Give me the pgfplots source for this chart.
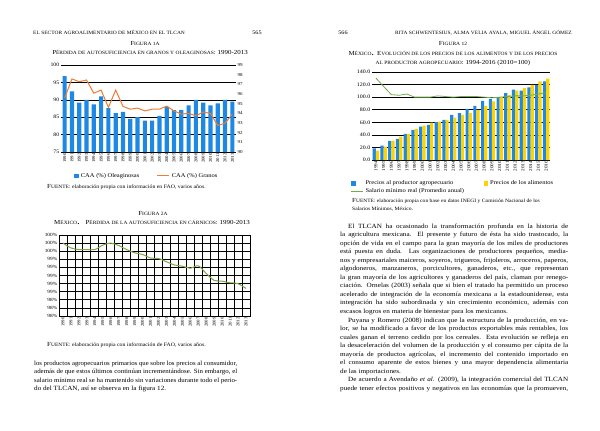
\documentclass[border=0pt]{standalone}
\usepackage{fontspec}
\setmainfont{Liberation Serif}[FakeStretch=1.12]
\usepackage{graphicx}
\usepackage{pgfplots}
\pgfplotsset{compat=1.18}
\definecolor{cblue}{RGB}{30,136,229}
\definecolor{corange}{RGB}{237,125,49}
\definecolor{cyellow}{RGB}{255,210,0}
\definecolor{cgreen}{RGB}{112,173,71}
\definecolor{colive}{RGB}{125,165,70}
\newcommand\fs[1]{\fontsize{#1}{#1}\selectfont}
\newcommand\sC[1]{{\fontsize{4.9bp}{5bp}\selectfont\MakeUppercase{#1}}}
\newcommand\Bg[1]{{\fontsize{6.2bp}{6bp}\selectfont #1}}
\newsavebox\lb
\newcommand\jw[2]{\sbox\lb{#2}\ifdim\wd\lb>#1\relax\resizebox{#1}{\height}{\usebox\lb}\else\makebox[#1][s]{#2}\fi}
\newcommand\jr[1]{\jw{228bp}{#1}}
\newcommand\jri[1]{\jw{220bp}{#1}}
\newcommand\jl[1]{\jw{203bp}{#1}}
\newcommand\bt{\fs{6.4bp}}
\pgfplotsset{
  barleg/.style={legend image code/.code={\fill[##1] (0bp,-2.3bp) rectangle (4.6bp,2.3bp);}},
  lineleg/.style={legend image code/.code={\draw[##1] (0bp,0bp) -- (12bp,0bp);}},
}
\begin{document}
\begin{tikzpicture}
\fill[white] (0,0) rectangle (600bp,-431bp);
\useasboundingbox (0,0) rectangle (600bp,-431bp);

% ---------------- Figure 1a ----------------
\begin{axis}[at={(61bp,-152bp)}, anchor=south west, scale only axis,
  width=175bp, height=87bp,
  xmin=-0.5, xmax=23.5, ymin=75, ymax=100, ytick={75,80,...,100},
  xtick={0,...,23},
  xticklabels={1990,1991,1992,1993,1994,1995,1996,1997,1998,1999,2000,2001,2002,2003,2004,2005,2006,2007,2008,2009,2010,2011,2012,2013},
  x tick label style={rotate=90, anchor=east, font=\fs{4.3bp}, inner sep=1bp},
  y tick label style={font=\fs{5.2bp}, inner sep=1.5bp},
  /pgf/number format/assume math mode=true,
  ymajorgrids, grid style={black, line width=0.5bp},
  axis line style={draw=none}, tick style={draw=none},
  legend columns=2,
  legend style={at={(0.075,-0.275)}, anchor=west, draw=none, fill=none,
    font=\fs{5.8bp}, inner sep=0pt},
  legend cell align=left]
\addplot[ybar, bar width=4.2bp, bar shift=0pt, fill=cblue, draw=none, barleg] coordinates {
(0,96.8)(1,92.4)(2,89.2)(3,90.0)(4,88.7)(5,91.0)(6,87.6)(7,86.2)(8,86.5)(9,84.5)
(10,85.0)(11,84.0)(12,84.0)(13,85.4)(14,88.0)(15,87.0)(16,87.0)(17,88.4)(18,90.0)
(19,89.2)(20,88.4)(21,89.0)(22,90.0)(23,89.5)};
\addlegendentry{\makebox[74bp][l]{CAA (\%) Oleaginosas}}
\addlegendimage{lineleg, corange, line width=1bp}
\addlegendentry{CAA (\%) Granos}
\end{axis}
\begin{axis}[at={(61bp,-152bp)}, anchor=south west, scale only axis,
  width=175bp, height=87bp,
  xmin=-0.5, xmax=23.5, ymin=90, ymax=99, ytick={90,...,99},
  axis y line*=right, hide x axis,
  y axis line style={draw=none}, tick style={draw=none},
  y tick label style={font=\fs{4.5bp}, inner sep=1.5bp},
  /pgf/number format/assume math mode=true]
\addplot[corange, line width=1bp, sharp plot] coordinates {
(0,95.58)(1,97.56)(2,97.27)(3,97.45)(4,96.08)(5,96.41)(6,94.61)(7,96.41)(8,94.72)
(9,94.43)(10,94.54)(11,94.25)(12,94.43)(13,94.43)(14,94.75)(15,94.25)(16,93.92)
(17,94.00)(18,93.74)(19,94.14)(20,94.00)(21,92.74)(22,92.99)(23,93.92)};
\end{axis}

% ---------------- Figure 2a ----------------
\begin{axis}[at={(59bp,-316bp)}, anchor=south west, scale only axis,
  width=191bp, height=81bp,
  xmin=-0.5, xmax=23.5, ymin=98, ymax=100,
  ytick={98,98.2,98.4,98.6,98.8,99,99.2,99.4,99.6,99.8,100},
  yticklabel={\pgfmathprintnumber[fixed,precision=0]{\tick}\%},
  xtick={0,...,23},
  xticklabels={1990,1991,1992,1993,1994,1995,1996,1997,1998,1999,2000,2001,2002,2003,2004,2005,2006,2007,2008,2009,2010,2011,2012,2013},
  minor xtick={-0.5,0.5,...,23.5},
  x tick label style={rotate=90, anchor=east, font=\fs{4.3bp}, inner sep=1bp},
  y tick label style={font=\fs{4.8bp}, inner sep=1.5bp},
  /pgf/number format/assume math mode=true,
  ymajorgrids, xminorgrids,
  major grid style={black, line width=0.8bp}, minor grid style={black, line width=0.8bp},
  axis line style={black, line width=0.8bp}, tick style={draw=none}]
\addplot[colive, line width=1bp, smooth, tension=0.5] coordinates {
(0,99.80)(1,99.68)(2,99.64)(3,99.64)(4,99.64)(5,99.75)(6,99.80)(7,99.74)(8,99.64)
(9,99.56)(10,99.52)(11,99.43)(12,99.42)(13,99.34)(14,99.26)(15,99.23)(16,99.18)
(17,99.24)(18,99.05)(19,98.88)(20,98.86)(21,98.82)(22,98.80)(23,98.68)};
\end{axis}

% ---------------- Figure 12 ----------------
\begin{axis}[at={(372bp,-160bp)}, anchor=south west, scale only axis,
  width=178bp, height=88bp,
  xmin=-0.5, xmax=22.5, ymin=0, ymax=140, ytick={0,20,...,140},
  /pgf/number format/fixed, /pgf/number format/fixed zerofill, /pgf/number format/precision=1,
  xtick={0,...,22},
  xticklabels={1994,1995,1996,1997,1998,1999,2000,2001,2002,2003,2004,2005,2006,2007,2008,2009,2010,2011,2012,2013,2014,2015,2016},
  x tick label style={rotate=90, anchor=east, font=\fs{4.6bp}, inner sep=1bp},
  y tick label style={font=\fs{5.3bp}, inner sep=1.5bp},
  /pgf/number format/assume math mode=true,
  ymajorgrids, grid style={black, line width=0.5bp},
  axis line style={draw=none}, tick style={draw=none},
  legend columns=2,
  legend style={at={(-0.12,-0.21)}, anchor=north west, draw=none, fill=none,
    font=\fs{5.8bp}, inner sep=0pt, row sep=-1.5bp},
  legend cell align=left]
\addplot[ybar, bar width=3.2bp, bar shift=-1.6bp, fill=cblue, draw=none, barleg] coordinates {
(0,18.6)(1,22.9)(2,30.3)(3,33.5)(4,41.5)(5,47.9)(6,53.2)(7,55.9)(8,60.1)(9,63.9)
(10,71.8)(11,74.5)(12,81.4)(13,86.2)(14,94.2)(15,97.4)(16,100.0)(17,106.4)(18,111.8)
(19,110.2)(20,115.5)(21,119.7)(22,125.1)};
\addlegendentry{\makebox[116bp][l]{Precios al productor agropecuario}}
\addplot[ybar, bar width=3.2bp, bar shift=1.6bp, fill=cyellow, draw=none, barleg] coordinates {
(0,14.8)(1,21.3)(2,30.3)(3,37.3)(4,41.5)(5,49.5)(6,54.8)(7,59.6)(8,61.2)(9,63.9)
(10,67.6)(11,71.8)(12,74.5)(13,79.8)(14,86.2)(15,93.1)(16,100.0)(17,103.8)(18,110.2)
(19,114.4)(20,119.7)(21,125.1)(22,129.3)};
\addlegendentry{Precios de los alimentos}
\addplot[cgreen, line width=0.8bp, sharp plot, lineleg] coordinates {
(0,130.4)(1,117)(2,104)(3,103)(4,105)(5,100)(6,100)(7,100)(8,102)(9,101)(10,100)
(11,101)(12,101)(13,101)(14,100)(15,99)(16,100)(17,101)(18,102)(19,102)(20,103)
(21,105)(22,107)};
\addlegendentry{Salario mínimo real (Promedio anual)}
\end{axis}

% ---------------- Texts ----------------
\begin{scope}[x=1bp, y=-1bp, every node/.style={inner sep=0pt}]
% headers
\node[anchor=base west] at (33,34) {\fs{5bp}\sC{El sector agroalimentario de México en el TLCAN}};
\node[anchor=base] at (257,34) {\fs{5.5bp}565};
\node[anchor=base] at (343,34) {\fs{5.5bp}566};
\node[anchor=base west] at (395,34) {\sC{Rita Schwentesius, Alma Velia Ayala, Miguel Ángel Gómez}};
% figure 1a titles
\node[anchor=base] at (145,45) {\Bg{F}\sC{igura 1a}};
\node[anchor=base] at (150,54.5) {\Bg{P}\sC{érdida de autosuficiencia en granos y oleaginosas}\Bg{: 1990-2013}};
\node[anchor=base west] at (47,188) {\fs{5.2bp}\Bg{F}\sC{uente}: elaboración propia con información en FAO, varios años.};
% figure 2a titles
\node[anchor=base] at (153,215) {\Bg{F}\sC{igura 2a}};
\node[anchor=base] at (152,224.5) {\Bg{M}\sC{éxico}.\ \ \Bg{P}\sC{érdida de la autosuficiencia en cárnicos}\Bg{: 1990-2013}};
\node[anchor=base west] at (47,346) {\fs{5.2bp}\Bg{F}\sC{uente}: elaboración propia con información de FAO, varios años.};
% left body
\node[anchor=base west] at (34,365) {\bt\jl{los productos agropecuarios primarios que sobre los precios al consumidor,}};
\node[anchor=base west] at (34,373.5) {\bt\jl{además de que estos últimos continúan incrementándose. Sin embargo, el}};
\node[anchor=base west] at (34,382) {\bt\jl{salario mínimo real se ha mantenido sin variaciones durante todo el perio-}};
\node[anchor=base west] at (34,390.5) {\bt do del TLCAN, así se observa en la figura 12.};
% figure 12 titles
\node[anchor=base] at (453,45) {\Bg{F}\sC{igura 12}};
\node[anchor=base] at (453,55) {\Bg{M}\sC{éxico}. \Bg{E}\sC{volución de los precios de los alimentos y de los precios}};
\node[anchor=base] at (453,64) {\sC{al productor agropecuario}\Bg{: 1994-2016 (2010=100)}};
\node[anchor=base west] at (352,202) {\fs{5bp}\Bg{F}\sC{uente}: elaboración propia con base en datos INEGI y Comisión Nacional de los};
\node[anchor=base west] at (352,210) {\fs{5bp}Salarios Mínimos, México.};
% right body
\node[anchor=base west] at (348,228.0) {\bt\jri{El TLCAN ha ocasionado la transformación profunda en la historia de}};
\node[anchor=base west] at (340,236.55) {\bt\jr{la agricultura mexicana. El presente y futuro de ésta ha sido trastocado, la}};
\node[anchor=base west] at (340,245.1) {\bt\jr{opción de vida en el campo para la gran mayoría de los miles de productores}};
\node[anchor=base west] at (340,253.65) {\bt\jr{está puesta en duda. Las organizaciones de productores pequeños, media-}};
\node[anchor=base west] at (340,262.2) {\bt\jr{nos y empresariales maiceros, soyeros, trigueros, frijoleros, arroceros, paperos,}};
\node[anchor=base west] at (340,270.75) {\bt\jr{algodoneros, manzaneros, porcicultores, ganaderos, etc., que representan}};
\node[anchor=base west] at (340,279.3) {\bt\jr{la gran mayoría de los agricultores y ganaderos del país, claman por renego-}};
\node[anchor=base west] at (340,287.85) {\bt\jr{ciación. Ornelas (2003) señala que si bien el tratado ha permitido un proceso}};
\node[anchor=base west] at (340,296.4) {\bt\jr{acelerado de integración de la economía mexicana a la estadounidense, esta}};
\node[anchor=base west] at (340,304.95) {\bt\jr{integración ha sido subordinada y sin crecimiento económico, además con}};
\node[anchor=base west] at (340,313.5) {\bt escasos logros en materia de bienestar para los mexicanos.};
\node[anchor=base west] at (348,322.05) {\bt\jri{Puyana y Romero (2008) indican que la estructura de la producción, en va-}};
\node[anchor=base west] at (340,330.6) {\bt\jr{lor, se ha modificado a favor de los productos exportables más rentables, los}};
\node[anchor=base west] at (340,339.15) {\bt\jr{cuales ganan el terreno cedido por los cereales. Esta evolución se refleja en}};
\node[anchor=base west] at (340,347.7) {\bt\jr{la desaceleración del volumen de la producción y el consumo per cápita de la}};
\node[anchor=base west] at (340,356.25) {\bt\jr{mayoría de productos agrícolas, el incremento del contenido importado en}};
\node[anchor=base west] at (340,364.8) {\bt\jr{el consumo aparente de estos bienes y una mayor dependencia alimentaria}};
\node[anchor=base west] at (340,373.35) {\bt de las importaciones.};
\node[anchor=base west] at (348,381.9) {\bt\jri{De acuerdo a Avendaño \textit{et al.} (2009), la integración comercial del TLCAN}};
\node[anchor=base west] at (340,390.45) {\bt\jr{puede tener efectos positivos y negativos en las economías que la promueven,}};
\end{scope}
\end{tikzpicture}
\end{document}
